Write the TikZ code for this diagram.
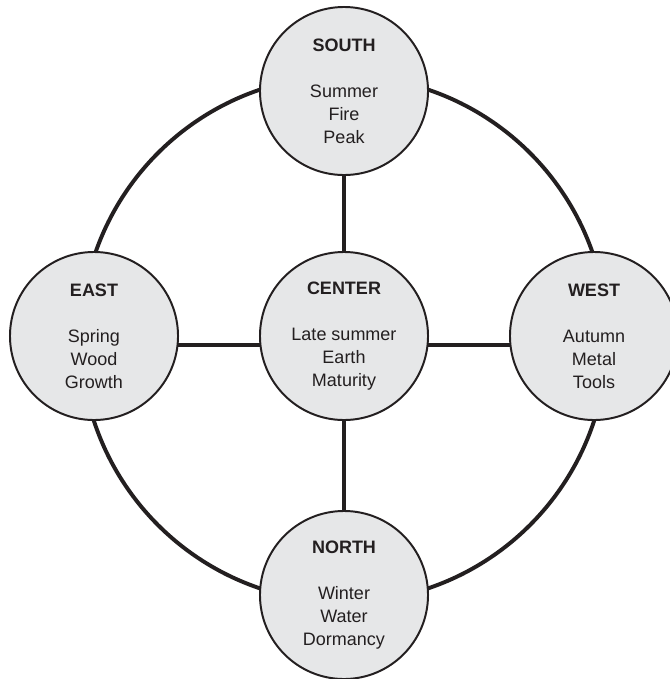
\documentclass[tikz,border=0pt]{standalone}
\usepackage{fontspec}
\setmainfont{Liberation Sans}
\usetikzlibrary{backgrounds}
\definecolor{dirfill}{RGB}{230,231,232}
\definecolor{dirline}{RGB}{35,31,32}

\tikzset{
  dirnode/.style={draw=dirline, line width=1.4pt, circle, fill=dirfill, minimum size=4.2cm,
    inner sep=0pt, align=center, text=dirline, font=\fontsize{12.8}{16.3}\selectfont},
  link/.style={draw=dirline, line width=2.8pt}
}

\begin{document}
\begin{tikzpicture}[x=0.025cm, y=-0.025cm]
\useasboundingbox (0,0) rectangle (670,679);

% Center
\node[dirnode] (center) at (344,336) {\textbf{CENTER}\\[16.3pt]Late summer\\Earth\\Maturity};

% Four directions
\node[dirnode] (south) at (344,91) {\textbf{SOUTH}\\[16.3pt]Summer\\Fire\\Peak};
\node[dirnode] (east) at (94,336) {\textbf{EAST}\\[16.3pt]Spring\\Wood\\Growth};
\node[dirnode] (west) at (594,336) {\textbf{WEST}\\[16.3pt]Autumn\\Metal\\Tools};
\node[dirnode] (north) at (344,595) {\textbf{NORTH}\\[16.3pt]Winter\\Water\\Dormancy};

% Outer ring and spokes
\coordinate (hub) at (344,339);
\begin{scope}[on background layer]
\draw[link] (hub) circle (6.575cm);
\draw[link] (center) -- (south);
\draw[link] (center) -- (north);
\draw[link] ([yshift=-0.225cm]center.center) -- ([yshift=-0.225cm]east.center);
\draw[link] ([yshift=-0.225cm]center.center) -- ([yshift=-0.225cm]west.center);
\end{scope}
\end{tikzpicture}
\end{document}
